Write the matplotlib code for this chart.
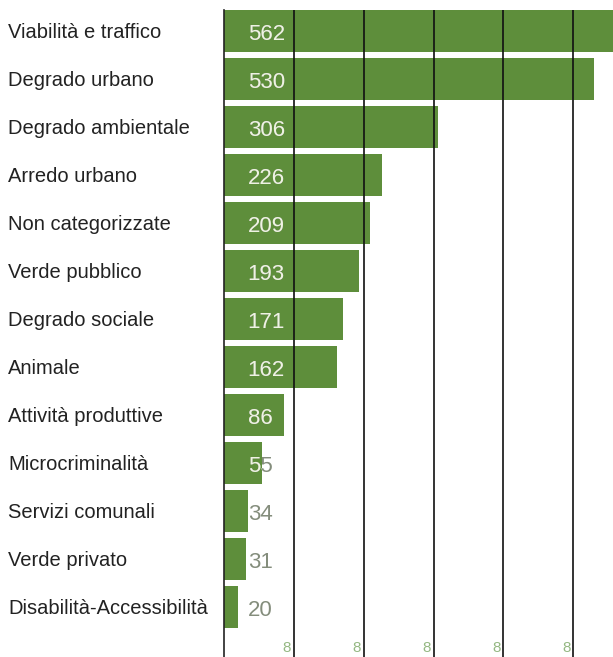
import matplotlib.pyplot as plt
import numpy as np

categories = ["Viabilità e traffico", "Degrado urbano", "Degrado ambientale",
              "Arredo urbano", "Non categorizzate", "Verde pubblico",
              "Degrado sociale", "Animale", "Attività produttive",
              "Microcriminalità", "Servizi comunali", "Verde privato",
              "Disabilità-Accessibilità"]
values = [562, 530, 306, 226, 209, 193, 171, 162, 86, 55, 34, 31, 20]
grid_ticks = [100, 200, 300, 400, 500]
tick_labels = ["8", "8", "8", "8", "8"]

bar_color = "#5e8e3b"
light_txt = "#eef3e2"
dark_txt = "#848d7c"

plt.rcParams['font.family'] = ['Liberation Sans', 'DejaVu Sans']

fig = plt.figure(figsize=(6.13, 6.57), dpi=100)
ax = fig.add_axes([224 / 613, 0, 1 - 224 / 613, 1 - 10 / 657])

y = np.arange(len(categories))
bars = ax.barh(y, values, height=0.875, color=bar_color, zorder=1)

ax.set_xlim(0, 557)
ax.set_ylim(13.04, -0.4375)

for g in grid_ticks:
    ax.axvline(g, color="#111111", lw=1.2, zorder=3)

for s in ["top", "right", "bottom"]:
    ax.spines[s].set_visible(False)
ax.spines["left"].set_color("#222222")
ax.spines["left"].set_linewidth(1.2)
ax.spines["left"].set_zorder(4)
ax.set_xticks([])
ax.set_yticks([])

# value labels: grey outside the bar, light where it sits on the bar
for i, (b, v) in enumerate(zip(bars, values)):
    ax.text(34, i + 0.07, str(v), color=dark_txt, fontsize=16,
            ha="left", va="center", zorder=2)
    t = ax.text(34, i + 0.07, str(v), color=light_txt, fontsize=16,
                ha="left", va="center", zorder=2)
    t.set_clip_on(True)
    t.set_clip_path(b)

# category labels on the left
for i, c in enumerate(categories):
    fig.text(8 / 613, 1 - (33 + 48 * i) / 657, c, fontsize=14.5,
             color="#222222", ha="left", va="center")

# cropped tick labels at the bottom
for g, lab in zip(grid_ticks, tick_labels):
    ax.text(g - 10, 12.85, lab, color="#94b882", fontsize=11,
            ha="center", va="center")

fig.savefig("out.png", dpi=100)
